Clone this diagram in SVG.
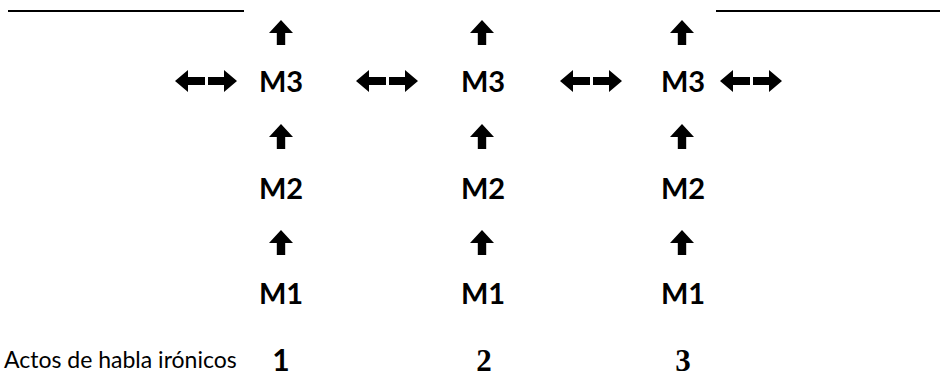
<svg xmlns="http://www.w3.org/2000/svg" width="947" height="378" viewBox="0 0 947 378">
  <style>
    .m { font-family: Lato, "Open Sans", sans-serif; font-weight: 700; font-size: 29px; fill: #000; text-anchor: middle; }
    .lbl { font-family: Lato, "Open Sans", sans-serif; font-size: 23px; fill: #000; }
    .num { font-weight: 700; font-size: 30px; fill: #000; text-anchor: middle; }
    .serif { font-family: "Liberation Serif", serif; font-size: 31px; }
    .rule { stroke: #000; stroke-width: 2.2; }
  </style>
  <defs>
    <!-- bold up arrow, tip at (0,0) -->
    <path id="up" d="M0 0 L12 13 L4.2 13 L4.2 25 L-4.2 25 L-4.2 13 L-12 13 Z" fill="#000"/>
    <!-- bold left and right arrows, centred vertically on y=0 -->
    <g id="lr">
      <path d="M0 0 L13 -11 L13 -4 L30 -4 L30 4 L13 4 L13 11 Z" fill="#000"/>
      <path d="M62 0 L49 -11 L49 -4 L33 -4 L33 4 L49 4 L49 11 Z" fill="#000"/>
    </g>
  </defs>

  <!-- top rules -->
  <line class="rule" x1="8" y1="11" x2="244" y2="11"/>
  <line class="rule" x1="716" y1="11" x2="940" y2="11"/>

  <g id="connectors">
    <use href="#up" x="281" y="20"/>
    <use href="#up" x="482" y="20"/>
    <use href="#up" x="682" y="20"/>
    <use href="#up" x="281" y="124"/>
    <use href="#up" x="482" y="124"/>
    <use href="#up" x="682" y="124"/>
    <use href="#up" x="281" y="230"/>
    <use href="#up" x="482" y="230"/>
    <use href="#up" x="682" y="230"/>
    <use href="#lr" x="175" y="81"/>
    <use href="#lr" x="356" y="81"/>
    <use href="#lr" x="560" y="81"/>
    <use href="#lr" x="720" y="81"/>
  </g>

  <g id="col1-m3"><text class="m" x="281" y="92">M3</text></g>
  <g id="col2-m3"><text class="m" x="483" y="92">M3</text></g>
  <g id="col3-m3"><text class="m" x="683" y="92">M3</text></g>
  <g id="col1-m2"><text class="m" x="281" y="199">M2</text></g>
  <g id="col2-m2"><text class="m" x="483" y="199">M2</text></g>
  <g id="col3-m2"><text class="m" x="683" y="199">M2</text></g>
  <g id="col1-m1"><text class="m" x="281" y="304">M1</text></g>
  <g id="col2-m1"><text class="m" x="483" y="304">M1</text></g>
  <g id="col3-m1"><text class="m" x="683" y="304">M1</text></g>

  <g id="row-label"><text class="lbl" x="4" y="368">Actos de habla irónicos</text></g>
  <g id="act1"><text class="num" x="281" y="371" style="font-family: Lato, sans-serif;">1</text></g>
  <g id="act2"><text class="num serif" x="484" y="371">2</text></g>
  <g id="act3"><text class="num serif" x="683" y="371">3</text></g>
</svg>
